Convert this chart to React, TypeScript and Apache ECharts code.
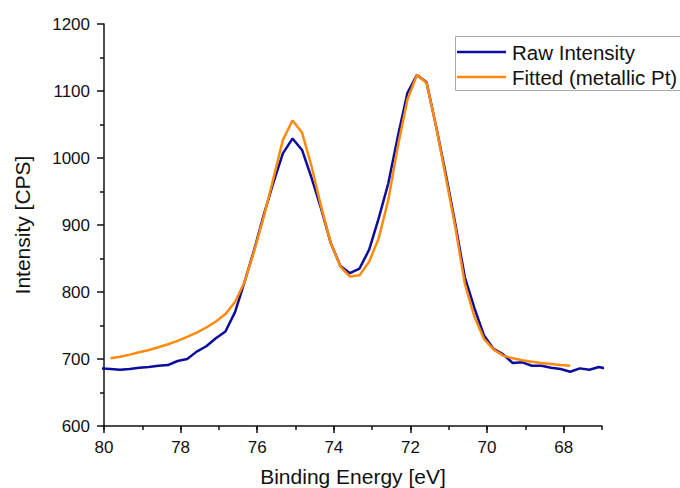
import React, { useEffect, useRef } from "react";
import * as echarts from "echarts";

// Binding energies (eV), descending, 0.25 eV steps
const energies = [
  80.08, 79.83, 79.58, 79.33, 79.08, 78.83, 78.58, 78.33, 78.08, 77.83,
  77.58, 77.33, 77.08, 76.83, 76.58, 76.33, 76.08, 75.83, 75.58, 75.33,
  75.08, 74.83, 74.58, 74.33, 74.08, 73.83, 73.58, 73.33, 73.08, 72.83,
  72.58, 72.33, 72.08, 71.83, 71.58, 71.33, 71.08, 70.83, 70.58, 70.33,
  70.08, 69.83, 69.58, 69.33, 69.08, 68.83, 68.58, 68.33, 68.08, 67.83,
  67.58, 67.33, 67.08, 66.83,
];

// Raw intensity (CPS), one per energy
const rawIntensity = [
  686, 685, 684, 685, 687, 688, 690, 691, 697, 700,
  711, 719, 731, 741, 770, 815, 863, 915, 963, 1007,
  1029, 1012, 970, 924, 873, 839, 828, 835, 863, 910,
  962, 1032, 1097, 1124, 1113, 1047, 977, 902, 822, 776,
  735, 715, 707, 694, 695, 690, 690, 687, 685, 681,
  686, 684, 688, 685,
];

// Fitted curve energies (subset of the scan)
const fitEnergies = [
  79.83, 79.58, 79.33, 79.08, 78.83, 78.58, 78.33, 78.08, 77.83,
  77.58, 77.33, 77.08, 76.83, 76.58, 76.33, 76.08, 75.83, 75.58, 75.33,
  75.08, 74.83, 74.58, 74.33, 74.08, 73.83, 73.58, 73.33, 73.08, 72.83,
  72.58, 72.33, 72.08, 71.83, 71.58, 71.33, 71.08, 70.83, 70.58, 70.33,
  70.08, 69.83, 69.58, 69.33, 69.08, 68.83, 68.58, 68.33, 68.08, 67.83,
];

// Fitted intensity (metallic Pt)
const fittedIntensity = [
  701, 703.5, 706.5, 710, 713.5, 717.5, 722, 727, 733,
  739.5, 747, 756, 767, 785, 815, 861, 912, 969, 1027,
  1056, 1038, 987, 927, 873, 838, 823, 825, 845, 880,
  937, 1017, 1087, 1124, 1112, 1047, 972, 897, 812, 763,
  730, 714, 705, 701, 698, 696, 694, 692.5, 691, 690,
];

const xMajorTicks = [80, 78, 76, 74, 72, 70, 68];
const seriesNames = ["Raw Intensity", "Fitted (metallic Pt)"];

const FONT = '"Liberation Sans", Arial, Helvetica, sans-serif';
const INK = "#111111";
const BLUE = "#0c0c9e";
const ORANGE = "#ff8a0c";

export default function App() {
  const ref = useRef<HTMLDivElement>(null);

  useEffect(() => {
    if (!ref.current) return;
    const chart = echarts.init(ref.current, null, { renderer: "svg" });
    const axisLineStyle = { color: INK, width: 1.5 };
    const option = {
      animation: false,
      backgroundColor: "#ffffff",
      grid: {
        left: 104,
        right: 78,
        top: 24,
        bottom: 62,
        containLabel: false,
        outerBoundsMode: "none",
      },
      xAxis: [
        {
          type: "value",
          min: 67,
          max: 80,
          interval: 1,
          inverse: true,
          position: "bottom",
          axisLine: { show: true, onZero: false, lineStyle: axisLineStyle },
          axisTick: { show: true, inside: false, length: 4, lineStyle: axisLineStyle },
          axisLabel: {
            show: true,
            formatter: (v: number) => (xMajorTicks.indexOf(v) >= 0 ? String(v) : ""),
            fontSize: 17,
            color: INK,
            margin: 13,
            fontFamily: FONT,
          },
          splitLine: { show: false },
          name: "Binding Energy [eV]",
          nameLocation: "middle",
          nameGap: 40,
          nameTextStyle: { fontSize: 21, color: INK, fontFamily: FONT },
        },
        {
          type: "value",
          min: 67,
          max: 80,
          inverse: true,
          position: "bottom",
          axisLine: { show: false },
          axisTick: {
            show: true,
            inside: false,
            length: 7,
            customValues: xMajorTicks,
            lineStyle: axisLineStyle,
          },
          axisLabel: { show: false },
          splitLine: { show: false },
        },
      ],
      yAxis: {
        type: "value",
        min: 600,
        max: 1200,
        interval: 100,
        axisLine: { show: true, onZero: false, lineStyle: axisLineStyle },
        axisTick: { show: true, inside: false, length: 7, lineStyle: axisLineStyle },
        minorTick: { show: true, splitNumber: 2, length: 4, lineStyle: axisLineStyle },
        axisLabel: {
          fontSize: 17,
          color: INK,
          margin: 14,
          fontFamily: FONT,
          formatter: (v: number) => String(v),
        },
        splitLine: { show: false },
        minorSplitLine: { show: false },
        name: "Intensity [CPS]",
        nameLocation: "middle",
        nameGap: 71,
        nameTextStyle: { fontSize: 21, color: INK, fontFamily: FONT },
      },
      series: [
        {
          name: seriesNames[0],
          type: "line",
          xAxisIndex: 0,
          data: energies.map((e, i) => [e, rawIntensity[i]]),
          showSymbol: false,
          symbol: "none",
          clip: true,
          lineStyle: { color: BLUE, width: 2.5 },
          itemStyle: { color: BLUE },
          z: 2,
        },
        {
          name: seriesNames[1],
          type: "line",
          xAxisIndex: 0,
          data: fitEnergies.map((e, i) => [e, fittedIntensity[i]]),
          showSymbol: false,
          symbol: "none",
          clip: true,
          lineStyle: { color: ORANGE, width: 2.5 },
          itemStyle: { color: ORANGE },
          z: 3,
        },
      ],
      graphic: [
        {
          type: "rect",
          z: 100,
          shape: { x: 455.5, y: 36.5, width: 260, height: 54 },
          style: { fill: "#ffffff", stroke: "#a8a8a8", lineWidth: 1 },
        },
        {
          type: "line",
          z: 101,
          shape: { x1: 457, y1: 52, x2: 506, y2: 52 },
          style: { stroke: BLUE, lineWidth: 2.5 },
        },
        {
          type: "text",
          z: 101,
          x: 512,
          y: 52,
          style: {
            text: seriesNames[0],
            fontSize: 20.5,
            fontFamily: FONT,
            fill: INK,
            verticalAlign: "middle",
            align: "left",
          },
        },
        {
          type: "line",
          z: 101,
          shape: { x1: 457, y1: 77, x2: 506, y2: 77 },
          style: { stroke: ORANGE, lineWidth: 2.5 },
        },
        {
          type: "text",
          z: 101,
          x: 512,
          y: 77,
          style: {
            text: seriesNames[1],
            fontSize: 20.5,
            fontFamily: FONT,
            fill: INK,
            verticalAlign: "middle",
            align: "left",
          },
        },
      ],
    };
    chart.setOption(option as any);
    return () => chart.dispose();
  }, []);

  return (
    <div
      ref={ref}
      style={{ position: "fixed", left: 0, top: 0, width: 680, height: 488, background: "#fff" }}
    />
  );
}
